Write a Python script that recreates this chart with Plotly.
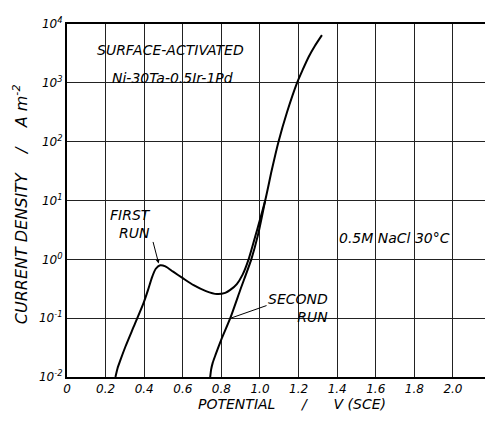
import plotly.graph_objects as go

# First run: potential (V SCE) and log10 current density (A m^-2)
first_x = [0.251, 0.262, 0.277, 0.302, 0.345, 0.397, 0.42, 0.44, 0.46, 0.483, 0.51,
           0.55, 0.60, 0.656, 0.72, 0.777, 0.82, 0.846, 0.88, 0.91, 0.941, 0.985,
           1.027, 1.06, 1.096, 1.14, 1.192, 1.221, 1.252, 1.285, 1.321]
first_logy = [-2.0, -1.85, -1.71, -1.49, -1.15, -0.74, -0.52, -0.31, -0.16, -0.10, -0.12,
              -0.21, -0.32, -0.44, -0.54, -0.59, -0.57, -0.52, -0.42, -0.26, 0.0, 0.5,
              1.0, 1.5, 2.0, 2.5, 3.0, 3.22, 3.44, 3.63, 3.81]

# Second run
second_x = [0.742, 0.747, 0.755, 0.77, 0.80, 0.846, 0.90, 0.955, 0.99, 1.027]
second_logy = [-2.0, -1.87, -1.76, -1.62, -1.36, -1.0, -0.5, 0.0, 0.42, 1.0]

x_ticks = [0, 0.2, 0.4, 0.6, 0.8, 1.0, 1.2, 1.4, 1.6, 1.8, 2.0]
x_ticktext = ["0", "0.2", "0.4", "0.6", "0.8", "1.0", "1.2", "1.4", "1.6", "1.8", "2.0"]
y_exps = [-2, -1, 0, 1, 2, 3, 4]

first_y = [10 ** v for v in first_logy]
second_y = [10 ** v for v in second_logy]

FONT = "DejaVu Sans"


def ital(size):
    return dict(family=FONT, size=size, color="black", style="italic")


fig = go.Figure()
for xs, ys in ((first_x, first_y), (second_x, second_y)):
    fig.add_trace(go.Scatter(x=xs, y=ys, mode="lines",
                             line=dict(color="black", width=2, shape="spline", smoothing=0.6),
                             showlegend=False, hoverinfo="skip"))

fig.update_layout(
    width=485, height=421,
    margin=dict(l=67, r=0, t=24, b=44),
    paper_bgcolor="white", plot_bgcolor="white",
    font=ital(12),
    xaxis=dict(range=[0, 2.166], tickvals=x_ticks, ticktext=x_ticktext,
               showgrid=True, gridcolor="#222", gridwidth=1,
               showline=True, linecolor="black", linewidth=2, mirror=True,
               ticks="", zeroline=False, tickfont=ital(12)),
    yaxis=dict(type="log", range=[-2, 4],
               tickvals=[10 ** e for e in y_exps],
               ticktext=["10<sup>%d</sup>" % e for e in y_exps],
               showgrid=True, gridcolor="#222", gridwidth=1,
               showline=True, linecolor="black", linewidth=2,
               ticks="", zeroline=False, tickfont=ital(12)),
)

anns = [
    dict(text="SURFACE-ACTIVATED", x=0.535, y=3.56, xref="x", yref="y", showarrow=False,
         xanchor="center", yanchor="middle"),
    dict(text="Ni-30Ta-0.5Ir-1Pd", x=0.546, y=3.08, xref="x", yref="y", showarrow=False,
         xanchor="center", yanchor="middle"),
    dict(text="FIRST<br>RUN", x=0.447, y=0.60, xref="x", yref="y", showarrow=False,
         xanchor="right", yanchor="middle", align="right"),
    dict(text="SECOND<br>RUN", x=1.364, y=-0.83, xref="x", yref="y", showarrow=False,
         xanchor="right", yanchor="middle", align="right"),
    dict(text="0.5M NaCl 30°C", x=1.40, y=0.36, xref="x", yref="y", showarrow=False,
         xanchor="left", yanchor="middle"),
    # arrows
    dict(text="", x=0.475, y=-0.07, xref="x", yref="y", showarrow=True,
         ax=-6, ay=-23, arrowhead=2, arrowsize=0.8, arrowwidth=1, arrowcolor="black"),
    dict(text="", x=0.85, y=-0.998, xref="x", yref="y", showarrow=True,
         ax=37, ay=-13, arrowhead=0, arrowwidth=1, arrowcolor="black"),
    # axis titles
    dict(text="CURRENT DENSITY    /    A m<sup>-2</sup>", x=-0.112, y=0.49,
         xref="paper", yref="paper", showarrow=False, textangle=-90,
         xanchor="center", yanchor="middle", font=ital(16)),
    dict(text="POTENTIAL      /      V (SCE)", x=0.538, y=-0.077,
         xref="paper", yref="paper", showarrow=False,
         xanchor="center", yanchor="middle", font=ital(14)),
]
for a in anns:
    a.setdefault("font", ital(14))
    fig.add_annotation(**a)

fig.write_html("out.html")
